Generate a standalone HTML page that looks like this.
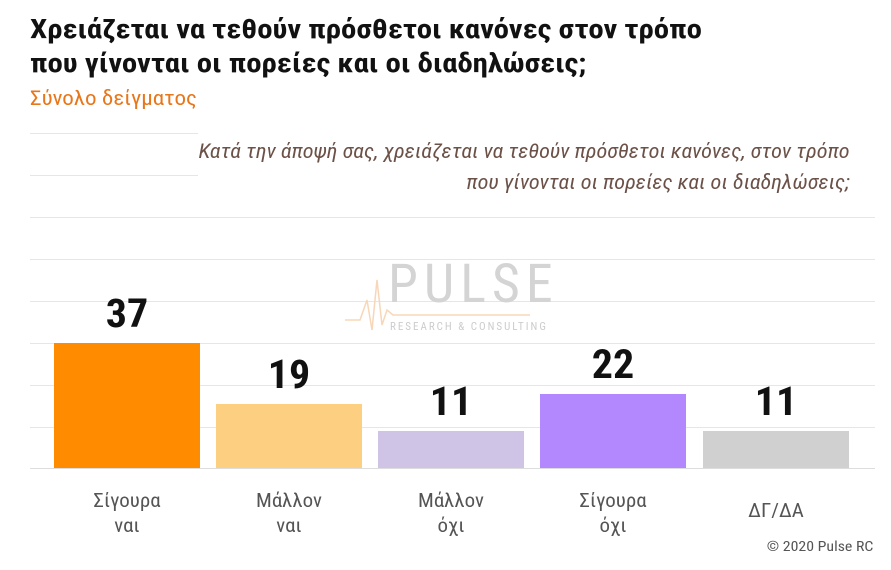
<!DOCTYPE html>
<html><head><meta charset="utf-8"><style>
body{margin:0;width:891px;height:570px;background:#fff;overflow:hidden;position:relative;font-family:"Roboto Condensed","Liberation Sans Narrow","Liberation Sans",sans-serif}
.a{position:absolute}
.g{position:absolute;left:30px;width:845px;height:1px;background:#e6e6e6}
.bar{position:absolute;width:146px;bottom:102px}
.v{position:absolute;width:146px;text-align:center;font-weight:bold;font-size:40px;color:#111;transform:scaleX(1.05)}
.l{position:absolute;width:146px;text-align:center;font-size:19px;color:#555;line-height:25px;top:488px;transform:scaleX(1.1)}
</style></head><body>
<div class="a" style="left:30px;top:12px;font-size:27px;font-weight:bold;color:#111;line-height:34px;transform:scaleX(1.14);transform-origin:left;white-space:nowrap">Χρειάζεται να τεθούν πρόσθετοι κανόνες στον τρόπο<br>που γίνονται οι πορείες και οι διαδηλώσεις;</div>
<div class="a" style="left:30px;top:86px;font-size:20px;color:#e8761a;transform:scaleX(1.15);transform-origin:left;white-space:nowrap">Σύνολο δείγματος</div>
<div class="g" style="top:133px"></div><div class="g" style="top:175px"></div>
<div class="g" style="top:217px"></div><div class="g" style="top:259px"></div><div class="g" style="top:301px"></div>
<div class="g" style="top:343px"></div><div class="g" style="top:385px"></div><div class="g" style="top:427px"></div>
<div class="g" style="top:468px;background:#ddd"></div>
<div class="a" style="left:198px;top:128px;width:680px;height:64px;background:#fff"></div>
<div class="a" style="right:41px;top:136px;text-align:right;font-size:20px;font-style:italic;color:#6b5147;line-height:31px;transform:scaleX(1.11);transform-origin:right;white-space:nowrap">Κατά την άποψή σας, χρειάζεται να τεθούν πρόσθετοι κανόνες, στον τρόπο<br>που γίνονται οι πορείες και οι διαδηλώσεις;</div>
<div class="a" style="left:388px;top:255px;font-size:54px;color:#d4d4d4;letter-spacing:6px;line-height:60px">PULSE</div>
<div class="a" style="left:390px;top:320px;font-size:11px;color:#ccc;letter-spacing:2px">RESEARCH &amp; CONSULTING</div>
<svg class="a" style="left:345px;top:270px" width="220" height="70"><polyline points="0,50 15,50 22,30 27,60 32,10 37,55 42,40 48,45 185,45" fill="none" stroke="#f7d7b8" stroke-width="1.5"/></svg>
<div class="bar" style="left:54px;height:125px;background:#ff8c00"></div>
<div class="bar" style="left:216px;height:64px;background:#fdd081"></div>
<div class="bar" style="left:378px;height:37px;background:#cfc3e6"></div>
<div class="bar" style="left:540px;height:74px;background:#b388ff"></div>
<div class="bar" style="left:703px;height:37px;background:#d0d0d0"></div>
<div class="v" style="left:54px;top:290px">37</div>
<div class="v" style="left:216px;top:351px">19</div>
<div class="v" style="left:378px;top:378px">11</div>
<div class="v" style="left:540px;top:341px">22</div>
<div class="v" style="left:703px;top:378px">11</div>
<div class="l" style="left:54px">Σίγουρα<br>ναι</div>
<div class="l" style="left:216px">Μάλλον<br>ναι</div>
<div class="l" style="left:378px">Μάλλον<br>όχι</div>
<div class="l" style="left:540px">Σίγουρα<br>όχι</div>
<div class="l" style="left:703px;top:498px">ΔΓ/ΔΑ</div>
<div class="a" style="right:18px;top:539px;font-size:14px;color:#555;transform:scaleX(1.13);transform-origin:right">© 2020 Pulse RC</div>
</body></html>
